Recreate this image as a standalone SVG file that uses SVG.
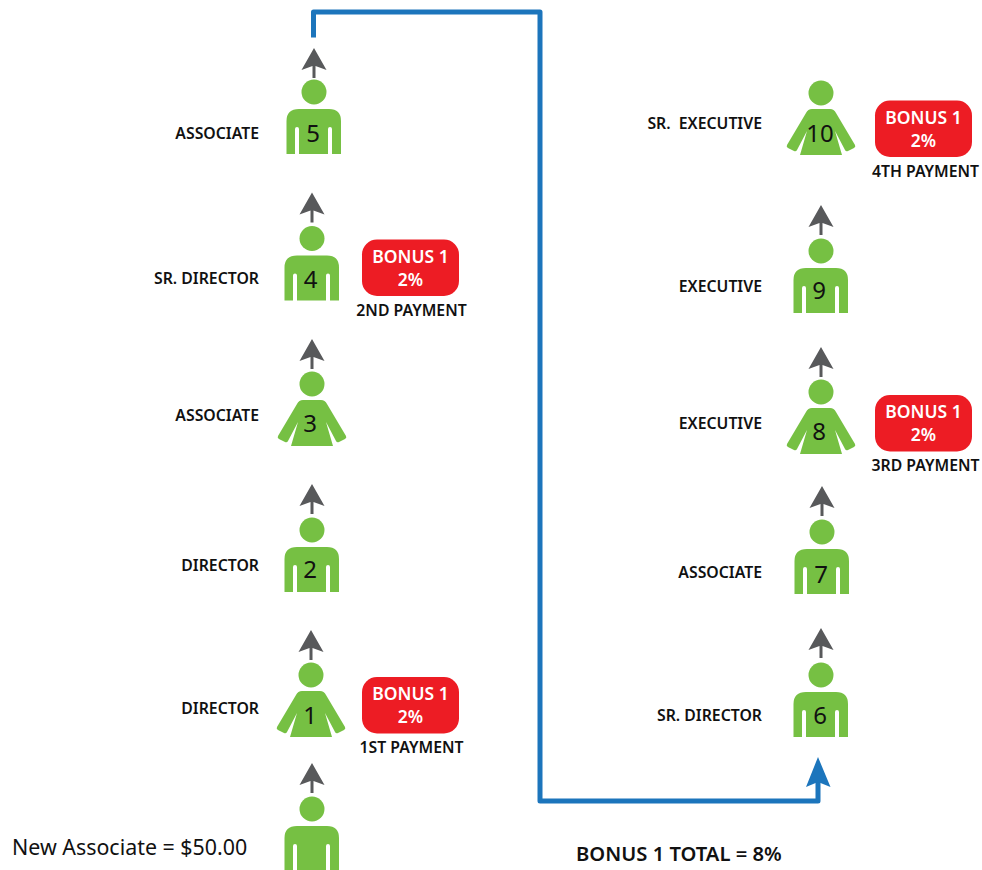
<svg xmlns="http://www.w3.org/2000/svg" xmlns:xlink="http://www.w3.org/1999/xlink" width="982" height="870" viewBox="0 0 982 870">
<style>
text{font-family:"Noto Sans","Open Sans","Liberation Sans",sans-serif}
.body{fill:#76c043}
.num{font-size:24px;fill:#111;text-anchor:middle}
.lab{font-size:15.800px;font-weight:600;fill:#111;text-anchor:end;white-space:pre}
.pay{font-size:15.800px;font-weight:600;fill:#111;text-anchor:middle}
.bad{fill:#ed1c24}
.bt{font-size:17.500px;font-weight:600;fill:#fff;text-anchor:middle}
.arrow{fill:#58595b}
.link{fill:none;stroke:#1c75bc;stroke-width:5;stroke-linejoin:round}
</style>
<defs>
<g id="male"><circle class="body" cx="0" cy="0" r="12.5"/><path class="body" d="M-27.500,62V29Q-27.500,17-15,17H15Q27,17 27,29V62H18V37Q18,35 16,35T14,37V62H-15V37Q-15,35-17,35T-19,37V62Z"/></g>
<g id="female"><circle class="body" cx="0" cy="0" r="12.5"/><path class="body" d="M-9,16H9Q13,16 15,20L34,52Q35,54 33,55L27,58Q25,59 24,57L14,38L21,62H-21L-14,38L-24,57Q-25,59-27,58L-33,55Q-35,54-34,52L-15,20Q-13,16-9,16Z"/></g>
<path id="up" class="arrow" d="M0,0L12.5,22L1.5,18V30H-1.5V18L-12.5,22Z"/>
<g id="badge"><rect class="bad" x="0" y="0" width="97" height="56.500" rx="15"/><text class="bt" x="48.500" y="23">BONUS 1</text><text class="bt" x="48.500" y="46">2%</text></g>
</defs>
<g id="connectors">
<use href="#up" x="314" y="48"/>
<use href="#up" x="312" y="192.500"/>
<use href="#up" x="312" y="339"/>
<use href="#up" x="312" y="484"/>
<use href="#up" x="311" y="630"/>
<use href="#up" x="312" y="763"/>
<use href="#up" x="821" y="205"/>
<use href="#up" x="821" y="347"/>
<use href="#up" x="822" y="486"/>
<use href="#up" x="821" y="628"/>
<path class="link" d="M313.500,37.500V12H540V801H818V780"/>
<path d="M818,757L830.500,787L818,782L806,787Z" fill="#1c75bc"/>
</g>
<g id="node-0"><use href="#male" x="312" y="809"/></g>
<g id="node-1"><use href="#female" x="311" y="675"/><text class="num" x="310" y="724">1</text><text class="lab" x="259" y="714">DIRECTOR</text><use href="#badge" x="362" y="677"/><text class="pay" x="411.500" y="753">1ST PAYMENT</text></g>
<g id="node-2"><use href="#male" x="312" y="530"/><text class="num" x="310" y="578">2</text><text class="lab" x="259" y="571">DIRECTOR</text></g>
<g id="node-3"><use href="#female" x="312" y="384"/><text class="num" x="310" y="432">3</text><text class="lab" x="259" y="421">ASSOCIATE</text></g>
<g id="node-4"><use href="#male" x="312" y="238.500"/><text class="num" x="310.500" y="288">4</text><text class="lab" x="259" y="284">SR. DIRECTOR</text><use href="#badge" x="362" y="239.500"/><text class="pay" x="411.500" y="316">2ND PAYMENT</text></g>
<g id="node-5"><use href="#male" x="314" y="92"/><text class="num" x="313" y="142">5</text><text class="lab" x="259" y="139">ASSOCIATE</text></g>
<g id="node-6"><use href="#male" x="821" y="675"/><text class="num" x="820" y="724">6</text><text class="lab" x="762" y="721">SR. DIRECTOR</text></g>
<g id="node-7"><use href="#male" x="822" y="532"/><text class="num" x="821" y="583">7</text><text class="lab" x="762" y="578">ASSOCIATE</text></g>
<g id="node-8"><use href="#female" x="821" y="392"/><text class="num" x="819" y="440">8</text><text class="lab" x="762" y="429">EXECUTIVE</text><use href="#badge" x="875" y="395"/><text class="pay" x="925.500" y="471">3RD PAYMENT</text></g>
<g id="node-9"><use href="#male" x="821" y="251"/><text class="num" x="819" y="299">9</text><text class="lab" x="762" y="292">EXECUTIVE</text></g>
<g id="node-10"><use href="#female" x="821" y="93"/><text class="num" x="820" y="142">10</text><text class="lab" x="762" y="129">SR.  EXECUTIVE</text><use href="#badge" x="875" y="100.500"/><text class="pay" x="925.500" y="177">4TH PAYMENT</text></g>
<text x="12" y="855" font-size="21.400" fill="#111">New Associate = $50.00</text>
<text x="576" y="861" font-size="20.200" font-weight="600" fill="#111">BONUS 1 TOTAL = 8%</text>
</svg>
